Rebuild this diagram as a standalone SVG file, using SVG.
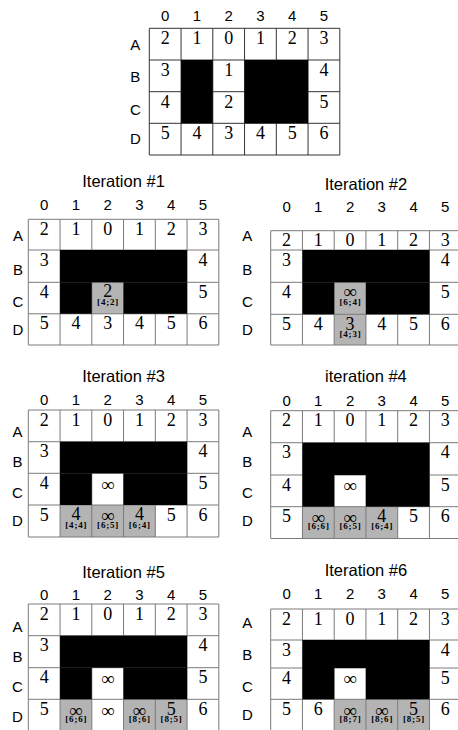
<svg xmlns="http://www.w3.org/2000/svg" width="458" height="730" viewBox="0 0 458 730">
<style>
.bg{fill:#fff}
.ln{fill:none;stroke:#7a7a7a;stroke-width:1}
.ln0{fill:none;stroke:#333;stroke-width:1}
.bk{fill:#000}
.gr{fill:#b4b4b4}
.d{font-family:"Liberation Serif","Times New Roman",serif;font-size:18px;text-anchor:middle;fill:#000}
.inf{font-family:"Liberation Serif","DejaVu Serif",serif;font-size:19px;text-anchor:middle;fill:#000}
.sb{font-family:"Liberation Serif","Times New Roman",serif;font-size:9px;font-weight:bold;text-anchor:middle;letter-spacing:0.8px;fill:#000}
.lb{font-family:"Liberation Sans",Arial,sans-serif;font-size:15px;text-anchor:middle;fill:#000}
.tt{font-family:"Liberation Sans",Arial,sans-serif;font-size:16.5px;text-anchor:middle;fill:#000}
</style>
<rect width="458" height="730" fill="#fff"/>

<g id="grid-initial" transform="translate(149.3,0)">
<rect class="bg" x="0" y="28.3" width="190.5" height="126.7"/>
<path class="ln0" d="M0 28.3V155M31.75 28.3V155M63.5 28.3V155M95.25 28.3V155M127 28.3V155M158.75 28.3V155M190.5 28.3V155M0 28.3H190.5M0 60H190.5M0 91.7H190.5M0 123.3H190.5M0 155H190.5"/>
<rect class="bk" x="31.75" y="60" width="31.75" height="63.3"/>
<rect class="bk" x="95.25" y="60" width="63.5" height="63.3"/>
<text class="lb" x="15.9" y="20.7">0</text><text class="lb" x="47.6" y="20.7">1</text><text class="lb" x="79.4" y="20.7">2</text><text class="lb" x="111.1" y="20.7">3</text><text class="lb" x="142.9" y="20.7">4</text><text class="lb" x="174.6" y="20.7">5</text>
<text class="lb" x="-14" y="50">A</text><text class="lb" x="-14" y="81.7">B</text><text class="lb" x="-14" y="115">C</text><text class="lb" x="-14" y="144">D</text>
<text class="d" x="15.9" y="44.3">2</text><text class="d" x="47.6" y="44.3">1</text><text class="d" x="79.4" y="44.3">0</text><text class="d" x="111.1" y="44.3">1</text><text class="d" x="142.9" y="44.3">2</text><text class="d" x="174.6" y="44.3">3</text>
<text class="d" x="15.9" y="76">3</text><text class="d" x="79.4" y="76">1</text><text class="d" x="174.6" y="76">4</text>
<text class="d" x="15.9" y="107.7">4</text><text class="d" x="79.4" y="107.7">2</text><text class="d" x="174.6" y="107.7">5</text>
<text class="d" x="15.9" y="139.3">5</text><text class="d" x="47.6" y="139.3">4</text><text class="d" x="79.4" y="139.3">3</text><text class="d" x="111.1" y="139.3">4</text><text class="d" x="142.9" y="139.3">5</text><text class="d" x="174.6" y="139.3">6</text>
</g>

<g id="iteration-1" transform="translate(28.3,0)">
<rect class="bg" x="0" y="219.3" width="190.5" height="125.7"/>
<rect class="gr" x="63.5" y="282.3" width="31.75" height="31.5"/>
<path class="ln" d="M0 219.3V345M31.75 219.3V345M63.5 219.3V345M95.25 219.3V345M127 219.3V345M158.75 219.3V345M190.5 219.3V345M0 219.3H190.5M0 250H190.5M0 282.3H190.5M0 313.8H190.5M0 345H190.5"/>
<rect class="bk" x="31.75" y="250" width="127" height="32.3"/>
<rect class="bk" x="31.75" y="282.3" width="31.75" height="31.5"/>
<rect class="bk" x="95.25" y="282.3" width="63.5" height="31.5"/>
<text class="tt" x="95.25" y="186.7">Iteration #1</text>
<text class="lb" x="15.9" y="210">0</text><text class="lb" x="47.6" y="210">1</text><text class="lb" x="79.4" y="210">2</text><text class="lb" x="111.1" y="210">3</text><text class="lb" x="142.9" y="210">4</text><text class="lb" x="174.6" y="210">5</text>
<text class="lb" x="-10.3" y="241">A</text><text class="lb" x="-10.3" y="275">B</text><text class="lb" x="-10.3" y="306.7">C</text><text class="lb" x="-10.3" y="335">D</text>
<text class="d" x="15.9" y="234.8">2</text><text class="d" x="47.6" y="234.8">1</text><text class="d" x="79.4" y="234.8">0</text><text class="d" x="111.1" y="234.8">1</text><text class="d" x="142.9" y="234.8">2</text><text class="d" x="174.6" y="234.8">3</text>
<text class="d" x="15.9" y="265.5">3</text><text class="d" x="174.6" y="265.5">4</text>
<text class="d" x="15.9" y="297.8">4</text><text class="d" x="174.6" y="297.8">5</text>
<text class="d" x="79.4" y="297">2</text><text class="sb" x="79.8" y="305">[4;2]</text>
<text class="d" x="15.9" y="329.3">5</text><text class="d" x="47.6" y="329.3">4</text><text class="d" x="79.4" y="329.3">3</text><text class="d" x="111.1" y="329.3">4</text><text class="d" x="142.9" y="329.3">5</text><text class="d" x="174.6" y="329.3">6</text>
</g>

<g id="iteration-2" transform="translate(270.7,0)">
<rect class="bg" x="0" y="230.7" width="190.5" height="114.3"/>
<rect class="gr" x="63.5" y="282.3" width="31.75" height="62.7"/>
<path class="ln" d="M0 230.7V345M31.75 230.7V345M63.5 230.7V345M95.25 230.7V345M127 230.7V345M158.75 230.7V345M190.5 230.7V345M0 230.7H190.5M0 250H190.5M0 282.3H190.5M0 314.3H190.5M0 345H190.5"/>
<rect class="bk" x="31.75" y="250" width="127" height="32.3"/>
<rect class="bk" x="31.75" y="282.3" width="31.75" height="32"/>
<rect class="bk" x="95.25" y="282.3" width="63.5" height="32"/>
<text class="tt" x="95.25" y="190">Iteration #2</text>
<text class="lb" x="15.9" y="211.7">0</text><text class="lb" x="47.6" y="211.7">1</text><text class="lb" x="79.4" y="211.7">2</text><text class="lb" x="111.1" y="211.7">3</text><text class="lb" x="142.9" y="211.7">4</text><text class="lb" x="174.6" y="211.7">5</text>
<text class="lb" x="-23.4" y="241">A</text><text class="lb" x="-23.4" y="275">B</text><text class="lb" x="-23.4" y="306.7">C</text><text class="lb" x="-23.4" y="335">D</text>
<text class="d" x="15.9" y="246.2">2</text><text class="d" x="47.6" y="246.2">1</text><text class="d" x="79.4" y="246.2">0</text><text class="d" x="111.1" y="246.2">1</text><text class="d" x="142.9" y="246.2">2</text><text class="d" x="174.6" y="246.2">3</text>
<text class="d" x="15.9" y="265.5">3</text><text class="d" x="174.6" y="265.5">4</text>
<text class="d" x="15.9" y="297.8">4</text><text class="d" x="174.6" y="297.8">5</text>
<text class="inf" x="79.4" y="298.3">∞</text><text class="sb" x="79.8" y="305">[6;4]</text>
<text class="d" x="15.9" y="329.8">5</text><text class="d" x="47.6" y="329.8">4</text><text class="d" x="79.4" y="330">3</text><text class="d" x="111.1" y="329.8">4</text><text class="d" x="142.9" y="329.8">5</text><text class="d" x="174.6" y="329.8">6</text>
<text class="sb" x="79.8" y="337">[4;3]</text>
</g>

<g id="iteration-3" transform="translate(28.3,0)">
<rect class="bg" x="0" y="410" width="190.5" height="127"/>
<rect class="gr" x="31.75" y="505" width="95.25" height="32"/>
<path class="ln" d="M0 410V537M31.75 410V537M63.5 410V537M95.25 410V537M127 410V537M158.75 410V537M190.5 410V537M0 410H190.5M0 441.7H190.5M0 473.3H190.5M0 505H190.5M0 537H190.5"/>
<rect class="bk" x="31.75" y="441.7" width="127" height="31.6"/>
<rect class="bk" x="31.75" y="473.3" width="31.75" height="31.7"/>
<rect class="bk" x="95.25" y="473.3" width="63.5" height="31.7"/>
<text class="tt" x="95.25" y="382.3">Iteration #3</text>
<text class="lb" x="15.9" y="405">0</text><text class="lb" x="47.6" y="405">1</text><text class="lb" x="79.4" y="405">2</text><text class="lb" x="111.1" y="405">3</text><text class="lb" x="142.9" y="405">4</text><text class="lb" x="174.6" y="405">5</text>
<text class="lb" x="-10.8" y="436.7">A</text><text class="lb" x="-10.8" y="466.7">B</text><text class="lb" x="-10.8" y="497.7">C</text><text class="lb" x="-10.8" y="526">D</text>
<text class="d" x="15.9" y="425.5">2</text><text class="d" x="47.6" y="425.5">1</text><text class="d" x="79.4" y="425.5">0</text><text class="d" x="111.1" y="425.5">1</text><text class="d" x="142.9" y="425.5">2</text><text class="d" x="174.6" y="425.5">3</text>
<text class="d" x="15.9" y="457.2">3</text><text class="d" x="174.6" y="457.2">4</text>
<text class="d" x="15.9" y="488.8">4</text><text class="inf" x="79.4" y="490.6">∞</text><text class="d" x="174.6" y="488.8">5</text>
<text class="d" x="15.9" y="520.5">5</text>
<text class="d" x="47.6" y="520.2">4</text><text class="sb" x="48" y="527.7">[4;4]</text>
<text class="inf" x="79.4" y="522.3">∞</text><text class="sb" x="79.8" y="527.7">[6;5]</text>
<text class="d" x="111.1" y="520.2">4</text><text class="sb" x="111.5" y="527.7">[6;4]</text>
<text class="d" x="142.9" y="520.5">5</text><text class="d" x="174.6" y="520.5">6</text>
</g>

<g id="iteration-4" transform="translate(270.7,0)">
<rect class="bg" x="0" y="410.7" width="190.5" height="127.8"/>
<rect class="gr" x="31.75" y="506.7" width="95.25" height="31.8"/>
<path class="ln" d="M0 410.7V538.5M31.75 410.7V538.5M63.5 410.7V538.5M95.25 410.7V538.5M127 410.7V538.5M158.75 410.7V538.5M190.5 410.7V538.5M0 410.7H190.5M0 442.7H190.5M0 475H190.5M0 506.7H190.5M0 538.5H190.5"/>
<rect class="bk" x="31.75" y="442.7" width="127" height="32.3"/>
<rect class="bk" x="31.75" y="475" width="31.75" height="31.7"/>
<rect class="bk" x="95.25" y="475" width="63.5" height="31.7"/>
<text class="tt" x="95.25" y="382.3">iteration #4</text>
<text class="lb" x="15.9" y="405.7">0</text><text class="lb" x="47.6" y="405.7">1</text><text class="lb" x="79.4" y="405.7">2</text><text class="lb" x="111.1" y="405.7">3</text><text class="lb" x="142.9" y="405.7">4</text><text class="lb" x="174.6" y="405.7">5</text>
<text class="lb" x="-23.4" y="436.7">A</text><text class="lb" x="-23.4" y="466.7">B</text><text class="lb" x="-23.4" y="497.7">C</text><text class="lb" x="-23.4" y="526">D</text>
<text class="d" x="15.9" y="426.2">2</text><text class="d" x="47.6" y="426.2">1</text><text class="d" x="79.4" y="426.2">0</text><text class="d" x="111.1" y="426.2">1</text><text class="d" x="142.9" y="426.2">2</text><text class="d" x="174.6" y="426.2">3</text>
<text class="d" x="15.9" y="458.2">3</text><text class="d" x="174.6" y="458.2">4</text>
<text class="d" x="15.9" y="490.5">4</text><text class="inf" x="79.4" y="492.3">∞</text><text class="d" x="174.6" y="490.5">5</text>
<text class="d" x="15.9" y="522.2">5</text>
<text class="inf" x="47.6" y="524">∞</text><text class="sb" x="48" y="529.4">[6;6]</text>
<text class="inf" x="79.4" y="524">∞</text><text class="sb" x="79.8" y="529.4">[6;5]</text>
<text class="d" x="111.1" y="521.9">4</text><text class="sb" x="111.5" y="529.4">[6;4]</text>
<text class="d" x="142.9" y="522.2">5</text><text class="d" x="174.6" y="522.2">6</text>
</g>

<g id="iteration-5" transform="translate(28.3,0)">
<rect class="bg" x="0" y="604" width="190.5" height="127"/>
<rect class="gr" x="31.75" y="699.3" width="31.75" height="31.7"/>
<rect class="gr" x="95.25" y="699.3" width="63.5" height="31.7"/>
<path class="ln" d="M0 604V731M31.75 604V731M63.5 604V731M95.25 604V731M127 604V731M158.75 604V731M190.5 604V731M0 604H190.5M0 635.7H190.5M0 667.7H190.5M0 699.3H190.5"/>
<rect class="bk" x="31.75" y="635.7" width="127" height="32"/>
<rect class="bk" x="31.75" y="667.7" width="31.75" height="31.6"/>
<rect class="bk" x="95.25" y="667.7" width="63.5" height="31.6"/>
<text class="tt" x="95.25" y="578.3">Iteration #5</text>
<text class="lb" x="15.9" y="600">0</text><text class="lb" x="47.6" y="600">1</text><text class="lb" x="79.4" y="600">2</text><text class="lb" x="111.1" y="600">3</text><text class="lb" x="142.9" y="600">4</text><text class="lb" x="174.6" y="600">5</text>
<text class="lb" x="-10.8" y="631.7">A</text><text class="lb" x="-10.8" y="661.7">B</text><text class="lb" x="-10.8" y="691.7">C</text><text class="lb" x="-10.8" y="721.7">D</text>
<text class="d" x="15.9" y="619.5">2</text><text class="d" x="47.6" y="619.5">1</text><text class="d" x="79.4" y="619.5">0</text><text class="d" x="111.1" y="619.5">1</text><text class="d" x="142.9" y="619.5">2</text><text class="d" x="174.6" y="619.5">3</text>
<text class="d" x="15.9" y="651.2">3</text><text class="d" x="174.6" y="651.2">4</text>
<text class="d" x="15.9" y="683.2">4</text><text class="inf" x="79.4" y="685">∞</text><text class="d" x="174.6" y="683.2">5</text>
<text class="d" x="15.9" y="714.8">5</text>
<text class="inf" x="47.6" y="716.6">∞</text><text class="sb" x="48" y="722">[6;6]</text>
<text class="inf" x="79.4" y="716.6">∞</text>
<text class="inf" x="111.1" y="716.6">∞</text><text class="sb" x="111.5" y="722">[8;6]</text>
<text class="d" x="142.9" y="714.5">5</text><text class="sb" x="143.3" y="722">[8;5]</text>
<text class="d" x="174.6" y="714.8">6</text>
</g>

<g id="iteration-6" transform="translate(270.7,0)">
<rect class="bg" x="0" y="609" width="190.5" height="122"/>
<rect class="gr" x="63.5" y="699.3" width="95.25" height="31.7"/>
<path class="ln" d="M0 609V731M31.75 609V731M63.5 609V731M95.25 609V731M127 609V731M158.75 609V731M190.5 609V731M0 609H190.5M0 640H190.5M0 668H190.5M0 699.3H190.5"/>
<rect class="bk" x="31.75" y="640" width="127" height="28"/>
<rect class="bk" x="31.75" y="668" width="31.75" height="31.3"/>
<rect class="bk" x="95.25" y="668" width="63.5" height="31.3"/>
<text class="tt" x="95.25" y="576">Iteration #6</text>
<text class="lb" x="15.9" y="599.3">0</text><text class="lb" x="47.6" y="599.3">1</text><text class="lb" x="79.4" y="599.3">2</text><text class="lb" x="111.1" y="599.3">3</text><text class="lb" x="142.9" y="599.3">4</text><text class="lb" x="174.6" y="599.3">5</text>
<text class="lb" x="-23.4" y="628.3">A</text><text class="lb" x="-23.4" y="660">B</text><text class="lb" x="-23.4" y="691.7">C</text><text class="lb" x="-23.4" y="720">D</text>
<text class="d" x="15.9" y="624.5">2</text><text class="d" x="47.6" y="624.5">1</text><text class="d" x="79.4" y="624.5">0</text><text class="d" x="111.1" y="624.5">1</text><text class="d" x="142.9" y="624.5">2</text><text class="d" x="174.6" y="624.5">3</text>
<text class="d" x="15.9" y="655.5">3</text><text class="d" x="174.6" y="655.5">4</text>
<text class="d" x="15.9" y="683.5">4</text><text class="inf" x="79.4" y="685.3">∞</text><text class="d" x="174.6" y="683.5">5</text>
<text class="d" x="15.9" y="714.8">5</text><text class="d" x="47.6" y="714.8">6</text>
<text class="inf" x="79.4" y="716.6">∞</text><text class="sb" x="79.8" y="722">[8;7]</text>
<text class="inf" x="111.1" y="716.6">∞</text><text class="sb" x="111.5" y="722">[8;6]</text>
<text class="d" x="142.9" y="714.5">5</text><text class="sb" x="143.3" y="722">[8;5]</text>
<text class="d" x="174.6" y="714.8">6</text>
</g>
</svg>
